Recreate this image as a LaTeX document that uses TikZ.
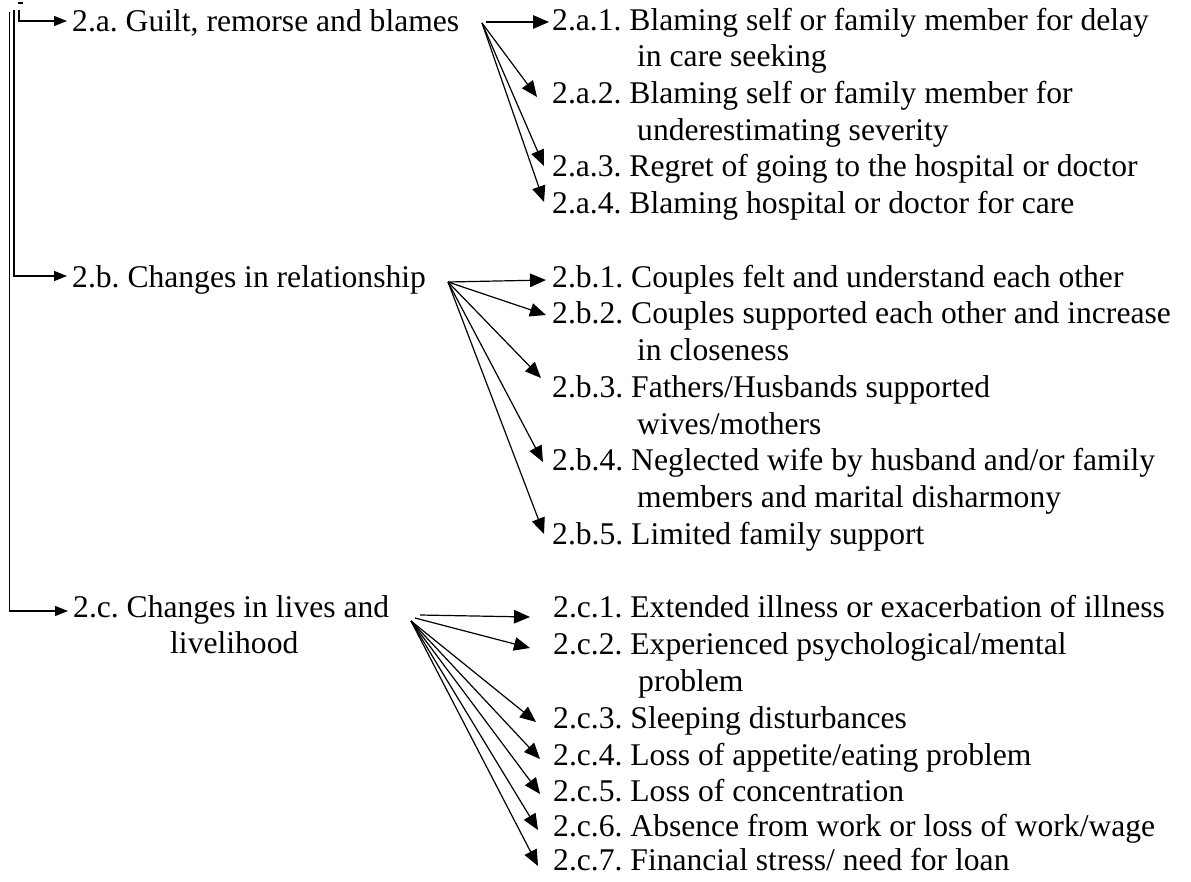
\documentclass[tikz,border=0pt]{standalone}
\usepackage{fontspec}
\setmainfont{Liberation Serif}
\usetikzlibrary{arrows.meta}
\begin{document}
\frenchspacing
\begin{tikzpicture}[x=1pt,y=-1pt,
  txt/.style={anchor=base west,inner sep=0pt,font=\fontsize{31.6}{36}\selectfont\frenchspacing},
  conn/.style={line width=1.2pt,black},
  branch/.style={conn,-{Triangle[length=13pt,width=10pt]}},
  fan/.style={conn,-{Triangle[length=16pt,width=13.5pt]}}]
\useasboundingbox (0,0) rectangle (1191,881);
% main categories
\node[txt] (A) at (72,31) {2.a. Guilt, remorse and blames};
\node[txt] (B) at (72,287) {2.b. Changes in relationship};
\node[txt] (C) at (73,617) {2.c. Changes in lives and};
\node[txt] (Cb) at (170,653) {livelihood};
% items a
\node[txt] (a1) at (552,30) {2.a.1. Blaming self or family member for delay};
\node[txt] (a1b) at (637,66) {in care seeking};
\node[txt] (a2) at (552,103) {2.a.2. Blaming self or family member for};
\node[txt] (a2b) at (637,140) {underestimating severity};
\node[txt] (a3) at (552,176) {2.a.3. Regret of going to the hospital or doctor};
\node[txt] (a4) at (552,213) {2.a.4. Blaming hospital or doctor for care};
% items b
\node[txt] (b1) at (552,287) {2.b.1. Couples felt and understand each other};
\node[txt] (b2) at (552,323) {2.b.2. Couples supported each other and increase};
\node[txt] (b2b) at (637,360) {in closeness};
\node[txt] (b3) at (552,397) {2.b.3. Fathers/Husbands supported};
\node[txt] (b3b) at (637,434) {wives/mothers};
\node[txt] (b4) at (552,470) {2.b.4. Neglected wife by husband and/or family};
\node[txt] (b4b) at (637,507) {members and marital disharmony};
\node[txt] (b5) at (552,544) {2.b.5. Limited family support};
% items c
\node[txt] (c1) at (553,617) {2.c.1. Extended illness or exacerbation of illness};
\node[txt] (c2) at (553,654) {2.c.2. Experienced psychological/mental};
\node[txt] (c2b) at (638,691) {problem};
\node[txt] (c3) at (553,728) {2.c.3. Sleeping disturbances};
\node[txt] (c4) at (553,765) {2.c.4. Loss of appetite/eating problem};
\node[txt] (c5) at (553,801) {2.c.5. Loss of concentration};
\node[txt] (c6) at (553,836) {2.c.6. Absence from work or loss of work/wage};
\node[txt] (c7) at (553,870) {2.c.7. Financial stress/ need for loan};
% left tree
\coordinate (t1) at (9.5,12);
\coordinate (t2) at (14,10);
\coordinate (t3) at (19,10);
\coordinate (k1) at (18,3);
\coordinate (k2) at (23,3);
\draw[conn] (k1) -- (k2);
\draw[branch] (t3) |- ([xshift=-5pt,yshift=10pt]A.base west);
\draw[branch] (t2) |- ([xshift=-5pt,yshift=11pt]B.base west);
\draw[branch] (t1) |- ([xshift=-5pt,yshift=6pt]C.base west);
% fan a
\coordinate (fa) at (482,23);
\coordinate (fa1) at (486,22);
\draw[fan] (fa1) -- ([xshift=-3pt,yshift=8pt]a1.base west);
\draw[fan] (fa) -- ([xshift=-15pt,yshift=6pt]a2.base west);
\draw[fan] (fa) -- ([xshift=-8pt,yshift=10pt]a3.base west);
\draw[fan] (fa) -- ([xshift=-8pt,yshift=11pt]a4.base west);
% fan b
\coordinate (fb) at (448,282);
\draw[fan] (fb) -- ([xshift=-6pt,yshift=7pt]b1.base west);
\draw[fan] (fb) -- ([xshift=-6pt,yshift=8pt]b2.base west);
\draw[fan] (fb) -- ([xshift=-11pt,yshift=19pt]b3.base west);
\draw[fan] (fb) -- ([xshift=-9pt,yshift=8pt]b4.base west);
\draw[fan] (fb) -- ([xshift=-8pt,yshift=10pt]b5.base west);
% fan c
\coordinate (fc) at (411,621);
\coordinate (fc1) at (420,615);
\coordinate (fc2) at (415,618);
\draw[fan] (fc1) -- ([xshift=-23pt,yshift=0pt]c1.base west);
\draw[fan] (fc2) -- ([xshift=-23pt,yshift=6pt]c2.base west);
\draw[fan] (fc) -- ([xshift=-17pt,yshift=6pt]c3.base west);
\draw[fan] (fc) -- ([xshift=-13pt,yshift=6pt]c4.base west);
\draw[fan] (fc) -- ([xshift=-13pt,yshift=7pt]c5.base west);
\draw[fan] (fc) -- ([xshift=-15pt,yshift=6pt]c6.base west);
\draw[fan] (fc) -- ([xshift=-15pt,yshift=4pt]c7.base west);
\end{tikzpicture}
\end{document}
